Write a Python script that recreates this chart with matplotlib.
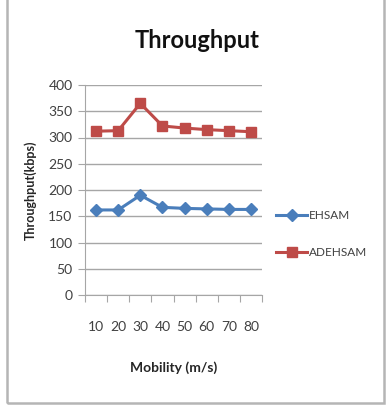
import matplotlib.pyplot as plt
from matplotlib.patches import Rectangle

mobility = ['10', '20', '30', '40', '50', '60', '70', '80']
ehsam = [162, 162, 190, 167, 165, 164, 163, 163]
adehsam = [312, 313, 365, 322, 318, 315, 313, 311]
yticks = [0, 50, 100, 150, 200, 250, 300, 350, 400]

plt.rcParams['font.family'] = ['Lato', 'DejaVu Sans']

fig = plt.figure(figsize=(3.87, 4.16), dpi=100)
fig.patch.set_facecolor('white')

# outer chart frame
fig.patches.append(Rectangle((7 / 387, 13 / 416), 377 / 387, 420 / 416,
                             transform=fig.transFigure, fill=False,
                             edgecolor='#b5b5b5', linewidth=1.8))

ax = fig.add_axes([85 / 387, 121 / 416, 177 / 387, 210 / 416])
pos = list(range(len(mobility)))

ax.plot(pos, ehsam, color='#4a7ebb', linewidth=2.2, marker='D', markersize=6,
        markerfacecolor='#4a7ebb', markeredgecolor='#4a7ebb', label='EHSAM')
ax.plot(pos, adehsam, color='#be4b48', linewidth=2.2, marker='s', markersize=7,
        markerfacecolor='#be4b48', markeredgecolor='#be4b48', label='ADEHSAM')

ax.set_xlim(-0.5, len(mobility) - 0.5)
ax.set_ylim(0, 400)
ax.set_yticks(yticks)
ax.yaxis.grid(True, color='#a6a6a6', linewidth=1)
ax.set_axisbelow(True)

# category axis: ticks sit between the categories
ax.set_xticks([p - 0.5 for p in pos] + [len(mobility) - 0.5])
ax.set_xticklabels([])
ax.set_xticks(pos, minor=True)
ax.set_xticklabels(mobility, minor=True)
ax.tick_params(axis='x', which='major', length=5, direction='out', color='#a6a6a6')
ax.tick_params(axis='x', which='minor', length=0, pad=19, labelsize=10, labelcolor='#404040')
ax.tick_params(axis='y', length=5, direction='out', color='#a6a6a6', labelsize=10,
               labelcolor='#404040', pad=4)

for s in ['top', 'right']:
    ax.spines[s].set_visible(False)
ax.spines['left'].set_color('#a6a6a6')
ax.spines['bottom'].set_color('#a6a6a6')

ax.set_ylabel('Throughput(kbps)', fontsize=9, fontweight='bold', color='#262626', labelpad=8)
ax.set_xlabel('Mobility (m/s)', fontsize=10, fontweight='bold', color='#262626', labelpad=20)

fig.text(197 / 387, 1 - 40 / 416, 'Throughput', ha='center', va='center',
         fontsize=17, fontweight='bold', color='#111111')

ax.legend(loc='center left', bbox_to_anchor=(1.02, 0.29), frameon=False,
          fontsize=8.5, labelspacing=2.2, handlelength=2.6, handletextpad=0.2,
          labelcolor='#404040')

fig.savefig('out.png', dpi=100)
